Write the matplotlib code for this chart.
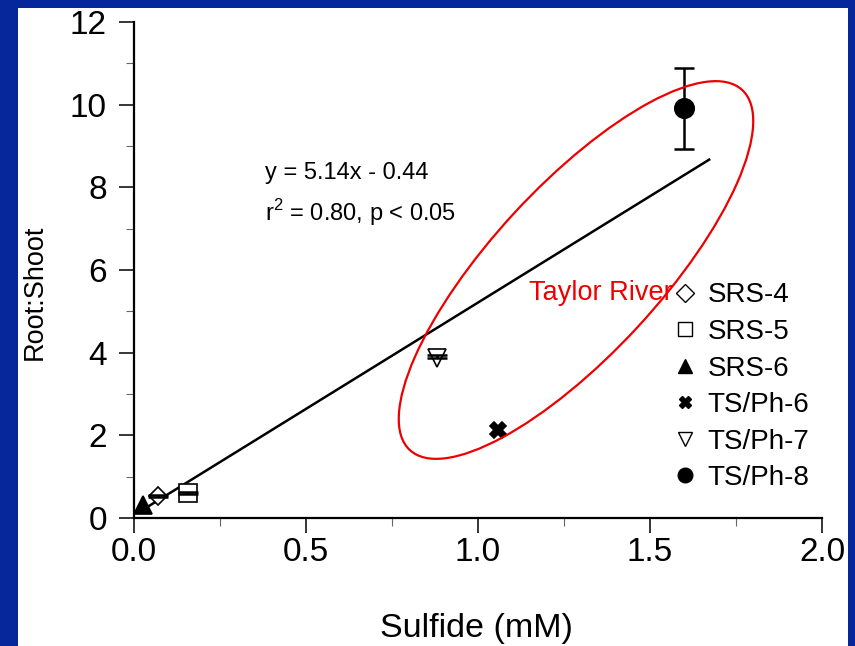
import matplotlib
matplotlib.use("Agg")
import matplotlib.pyplot as plt
from matplotlib.patches import Rectangle, Ellipse
from matplotlib.lines import Line2D

plt.rcParams['font.family'] = ['Liberation Sans', 'DejaVu Sans']
plt.rcParams['mathtext.fontset'] = 'custom'
plt.rcParams['mathtext.rm'] = 'Liberation Sans'

# ---- data ----
sites = ["SRS-4", "SRS-5", "SRS-6", "TS/Ph-6", "TS/Ph-7", "TS/Ph-8"]
sulfide = [0.07, 0.157, 0.026, 1.058, 0.88, 1.60]
root_shoot = [0.53, 0.60, 0.31, 2.12, 3.88, 9.92]
root_shoot_err_low = [0.03, 0.03, 0.0, 0.0, 0.0, 0.99]
root_shoot_err_high = [0.03, 0.03, 0.0, 0.0, 0.07, 0.97]
markers = ["D", "s", "^", "X", "v", "o"]
filled = [False, False, True, True, False, True]
marker_sizes = [9, 13, 13, 12, 13, 14]

fit_x = [0.02, 1.672]
fit_y = [0.17, 8.67]
eq_line1 = "y = 5.14x - 0.44"
eq_line2 = "r$^\\mathregular{2}$ = 0.80, p < 0.05"
group_label = "Taylor River"

x_ticks = [0.0, 0.5, 1.0, 1.5, 2.0]
y_ticks = [0, 2, 4, 6, 8, 10, 12]

W, H = 855, 646
fig = plt.figure(figsize=(W / 100, H / 100), dpi=100)
fig.patch.set_facecolor('#06279c')
fig.patches.append(Rectangle((18 / W, 0), (848 - 18) / W, 1 - 8 / H,
                             transform=fig.transFigure, facecolor='white',
                             edgecolor='none', zorder=-10))

ax = fig.add_axes([134 / W, 1 - 518 / H, (822 - 134) / W, (518 - 22) / H])
ax.set_zorder(1)
ax.set_facecolor('none')
ax.set_xlim(0, 2)
ax.set_ylim(0, 12)
for s in ['top', 'right']:
    ax.spines[s].set_visible(False)
for s in ['left', 'bottom']:
    ax.spines[s].set_linewidth(1.6)

ax.set_xticks(x_ticks)
ax.set_xticklabels([f"{v:.1f}" for v in x_ticks])
ax.set_yticks(y_ticks)
ax.set_yticklabels([str(v) for v in y_ticks])
ax.set_xticks([0.25, 0.75, 1.25, 1.75], minor=True)
ax.set_yticks([1, 3, 5, 7, 9, 11], minor=True)
ax.tick_params(which='major', length=11, width=1.1, labelsize=24, direction='out')
ax.tick_params(which='minor', length=5.5, width=0.8, direction='out', color='#666666')
ax.tick_params(axis='y', which='major', pad=8.5)
ax.tick_params(axis='x', which='major', pad=3)

# regression line
ax.plot(fit_x, fit_y, color='black', lw=1.8, zorder=3)

handles = []
for x, y, m, f, ms, lab in zip(sulfide, root_shoot, markers, filled, marker_sizes, sites):
    ax.plot([x], [y], linestyle='none', marker=m, markersize=ms,
            markerfacecolor='black' if f else 'white', markeredgecolor='black',
            markeredgewidth=1.2, zorder=4)
    handles.append(Line2D([], [], linestyle='none', marker=m,
                          markersize=ms * 0.75 if m != 'D' else 9,
                          markerfacecolor='black' if f else 'white',
                          markeredgecolor='black', markeredgewidth=1.0, label=lab))

# error bars (drawn over the markers)
for x, y, lo, hi in zip(sulfide, root_shoot, root_shoot_err_low, root_shoot_err_high):
    if lo > 0 or hi > 0:
        ax.errorbar([x], [y], yerr=[[lo], [hi]], fmt='none', ecolor='black',
                    elinewidth=1.8, capsize=7.5, capthick=1.8, zorder=5)

leg = ax.legend(handles=handles, loc='upper left', bbox_to_anchor=(0.7805, 0.475),
                frameon=False, fontsize=20, handlelength=1.0, handletextpad=0.32,
                labelspacing=0.38, borderpad=0, borderaxespad=0)

ax.text(0.381, 8.34, eq_line1, fontsize=17, va='center', ha='left')
ax.text(0.381, 7.38, eq_line2, fontsize=17, va='center', ha='left')
ax.text(1.566, 5.45, group_label, fontsize=19.5, color='#ee0000', va='center', ha='right')

# red ellipse highlighting Taylor River sites (defined in inches)
ell = Ellipse((576 / 100, (H - 270) / 100), 2 * 2.45, 2 * 0.84, angle=47.3,
              transform=fig.dpi_scale_trans, fill=False, edgecolor='#ee0000', lw=1.6,
              zorder=6)
fig.patches.append(ell)

fig.text(476 / W, 1 - 628 / H, "Sulfide (mM)", fontsize=24.5, ha='center', va='center')
fig.text(35 / W, 1 - 292 / H, "Root:Shoot", fontsize=19.5, ha='center', va='center',
         rotation=90)

fig.savefig("out.png", dpi=100, facecolor=fig.get_facecolor())
